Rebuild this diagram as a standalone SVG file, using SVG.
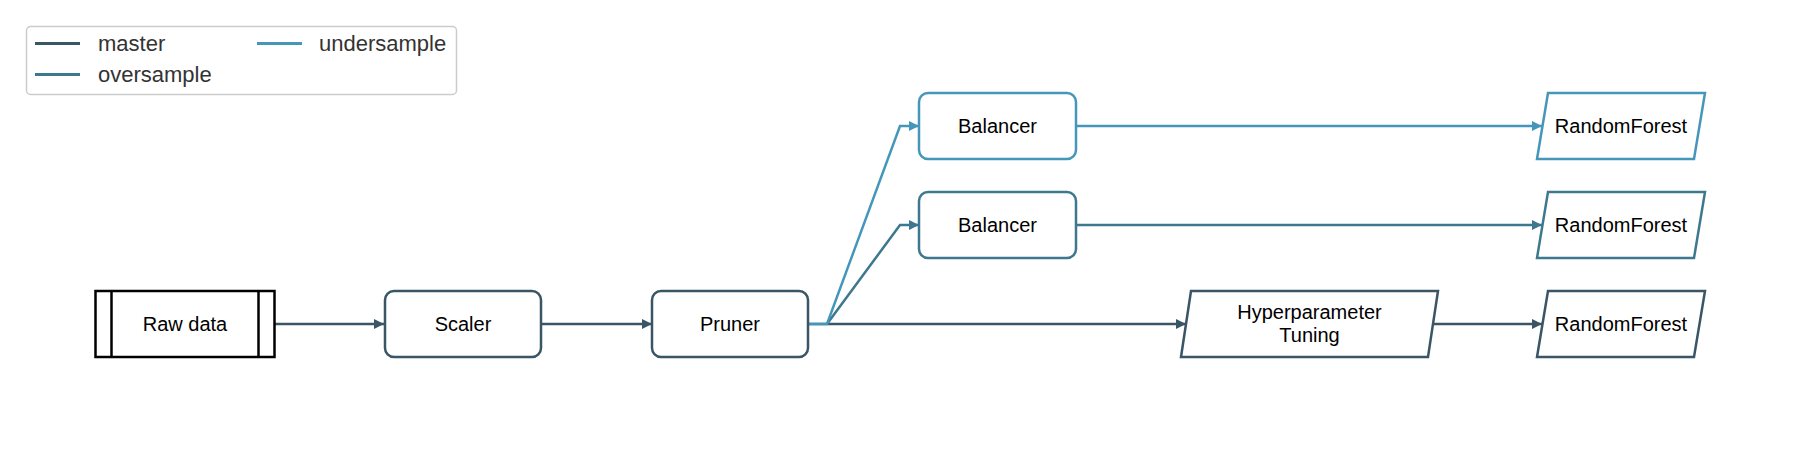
<svg xmlns="http://www.w3.org/2000/svg" width="1800" height="450" viewBox="0 0 1800 450">
<style>
  .bg { fill: #ffffff; }
  .node { fill: #ffffff; stroke-width: 2.5; }
  .master { stroke: #3a5566; }
  .over { stroke: #3e788f; }
  .under { stroke: #4597ba; }
  .raw { fill: #ffffff; stroke: #000000; stroke-width: 2.5; }
  .label { font-family: "Liberation Sans", Arial, sans-serif; font-size: 20px; fill: #000000; text-anchor: middle; }
  .legtext { font-family: "Liberation Sans", Arial, sans-serif; font-size: 22px; fill: #333333; }
  .edge { fill: none; stroke-width: 2.5; }
  .legline { stroke-width: 3; }
</style>
<defs>
  <marker id="am" viewBox="0 0 10 10" refX="10" refY="5" markerWidth="10" markerHeight="10" markerUnits="userSpaceOnUse" orient="auto">
    <path d="M0,0 L10,5 L0,10 z" fill="#3a5566"/>
  </marker>
  <marker id="ao" viewBox="0 0 10 10" refX="10" refY="5" markerWidth="10" markerHeight="10" markerUnits="userSpaceOnUse" orient="auto">
    <path d="M0,0 L10,5 L0,10 z" fill="#3e788f"/>
  </marker>
  <marker id="au" viewBox="0 0 10 10" refX="10" refY="5" markerWidth="10" markerHeight="10" markerUnits="userSpaceOnUse" orient="auto">
    <path d="M0,0 L10,5 L0,10 z" fill="#4597ba"/>
  </marker>
</defs>
<rect class="bg" x="0" y="0" width="1800" height="450"/>

<g id="legend">
  <rect x="26.5" y="26.5" width="430" height="68" rx="4" fill="#ffffff" stroke="#cccccc" stroke-width="1.5"/>
  <line class="legline" x1="35" y1="43.5" x2="80" y2="43.5" stroke="#3a5566"/>
  <text class="legtext" x="98" y="51">master</text>
  <line class="legline" x1="35" y1="74.5" x2="80" y2="74.5" stroke="#3e788f"/>
  <text class="legtext" x="98" y="82">oversample</text>
  <line class="legline" x1="257" y1="43.5" x2="302" y2="43.5" stroke="#4597ba"/>
  <text class="legtext" x="319" y="51">undersample</text>
</g>

<g id="edges">
  <line class="edge master" x1="274" y1="324" x2="384" y2="324" marker-end="url(#am)"/>
  <line class="edge master" x1="541" y1="324" x2="652" y2="324" marker-end="url(#am)"/>
  <polyline class="edge master" points="808,324 1186,324" marker-end="url(#am)"/>
  <polyline class="edge over" points="827,324 900,225 919,225" marker-end="url(#ao)"/>
  <polyline class="edge under" points="808,324 827,324 900,126 919,126" marker-end="url(#au)"/>
  <line class="edge under" x1="1076" y1="126" x2="1542" y2="126" marker-end="url(#au)"/>
  <line class="edge over" x1="1076" y1="225" x2="1542" y2="225" marker-end="url(#ao)"/>
  <line class="edge master" x1="1433" y1="324" x2="1542" y2="324" marker-end="url(#am)"/>
</g>

<g id="raw-data">
  <rect class="raw" x="95.5" y="291" width="179" height="66"/>
  <line x1="111.5" y1="291" x2="111.5" y2="357" stroke="#000000" stroke-width="2.5"/>
  <line x1="258.5" y1="291" x2="258.5" y2="357" stroke="#000000" stroke-width="2.5"/>
  <text class="label" x="185" y="331">Raw data</text>
</g>

<g id="scaler">
  <rect class="node master" x="385" y="291" width="156" height="66" rx="9"/>
  <text class="label" x="463" y="331">Scaler</text>
</g>

<g id="pruner">
  <rect class="node master" x="652" y="291" width="156" height="66" rx="9"/>
  <text class="label" x="730" y="331">Pruner</text>
</g>

<g id="balancer-under">
  <rect class="node under" x="919" y="93" width="157" height="66" rx="9"/>
  <text class="label" x="997.5" y="133">Balancer</text>
</g>

<g id="balancer-over">
  <rect class="node over" x="919" y="192" width="157" height="66" rx="9"/>
  <text class="label" x="997.5" y="232">Balancer</text>
</g>

<g id="hyperparameter-tuning">
  <polygon class="node master" points="1191,291 1438,291 1428,357 1181,357"/>
  <text class="label" x="1309.5" y="319">Hyperparameter</text>
  <text class="label" x="1309.5" y="342">Tuning</text>
</g>

<g id="rf-under">
  <polygon class="node under" points="1548,93 1705,93 1694,159 1537,159"/>
  <text class="label" x="1621" y="133">RandomForest</text>
</g>

<g id="rf-over">
  <polygon class="node over" points="1548,192 1705,192 1694,258 1537,258"/>
  <text class="label" x="1621" y="232">RandomForest</text>
</g>

<g id="rf-master">
  <polygon class="node master" points="1548,291 1705,291 1694,357 1537,357"/>
  <text class="label" x="1621" y="331">RandomForest</text>
</g>
</svg>
